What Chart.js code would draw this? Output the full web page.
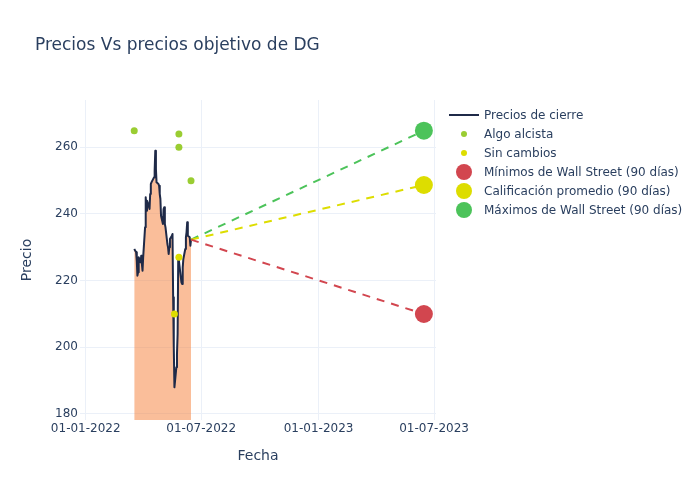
<!DOCTYPE html>
<html>
<head>
<meta charset="utf-8">
<script src="https://cdn.jsdelivr.net/npm/chart.js@4.4.0/dist/chart.umd.min.js"></script>
<style>
  body { margin: 0; background: #fff; font-family: "DejaVu Sans", sans-serif; color: #2a3f5f; }
  #wrap { position: relative; width: 700px; height: 500px; }
  #title { position: absolute; left: 35px; top: 33px; font-size: 17px; line-height: 22px; white-space: nowrap; }
  #legend { position: absolute; left: 449px; top: 0; font-size: 12px; }
  .row { position: absolute; left: 0; height: 18px; line-height: 18px; white-space: nowrap; }
  .sym { position: absolute; left: 0; top: 0; width: 30px; height: 18px; }
  .txt { position: absolute; left: 35px; top: 0; }
</style>
</head>
<body>
<div id="wrap">
  <canvas id="myChart" width="700" height="500"></canvas>
  <div id="title">Precios Vs precios objetivo de DG</div>
  <div id="legend"></div>
</div>
<script>
// Precios de cierre diarios
const priceDates = [
  '2022-03-18', '2022-03-21', '2022-03-22', '2022-03-23', '2022-03-24', '2022-03-25',
  '2022-03-28', '2022-03-29', '2022-03-30', '2022-03-31', '2022-04-01',
  '2022-04-04', '2022-04-05', '2022-04-06', '2022-04-07', '2022-04-08',
  '2022-04-11', '2022-04-12', '2022-04-13', '2022-04-14',
  '2022-04-18', '2022-04-19', '2022-04-20', '2022-04-21', '2022-04-22',
  '2022-04-25', '2022-04-26', '2022-04-27', '2022-04-28', '2022-04-29',
  '2022-05-02', '2022-05-03', '2022-05-04', '2022-05-05', '2022-05-06',
  '2022-05-09', '2022-05-10', '2022-05-11', '2022-05-12', '2022-05-13',
  '2022-05-16', '2022-05-17', '2022-05-18', '2022-05-19', '2022-05-20',
  '2022-05-23', '2022-05-24', '2022-05-25', '2022-05-26', '2022-05-27',
  '2022-05-31', '2022-06-01', '2022-06-02', '2022-06-03',
  '2022-06-06', '2022-06-07', '2022-06-08', '2022-06-09', '2022-06-10',
  '2022-06-13', '2022-06-14', '2022-06-15',
];
const closePrices = [
  229.5, 228.5, 226, 221.5, 222.5, 227,
  225.5, 227.5, 225, 223, 227,
  236, 245, 241, 244, 243.5,
  241.5, 246, 249, 249.5,
  251, 253, 259, 253.5, 249.5,
  249, 248.5, 246, 244.5, 239.5,
  237, 241.5, 242, 237, 236,
  231, 230, 228, 230, 232.5,
  233.5, 234, 215, 200, 188,
  194, 198, 204, 227.5, 226,
  219.5, 219, 224, 226.5,
  229.5, 233, 234.5, 237.5, 233.5,
  233, 230.5, 232.3,
];

// Recomendaciones de analistas
const bullDates = ['2022-03-18', '2022-05-27', '2022-05-27', '2022-06-15'];
const bullTargets = [265, 264, 260, 250];
const holdDates = ['2022-05-20', '2022-05-27'];
const holdTargets = [210, 227];

// Objetivos a 90 días
const forecastDate = '2023-06-15';
const targetLow = 210;
const targetAvg = 248.7;
const targetHigh = 265;

// Ejes
const xTickDates = ['2022-01-01', '2022-07-01', '2023-01-01', '2023-07-01'];
const xStart = '2021-12-23';
const xEnd = '2023-07-04';
const yTicks = [180, 200, 220, 240, 260];
const yMin = 178.2;
const yMax = 274.2;

const textColor = '#2a3f5f';
const gridColor = '#EBF0F8';
const fontName = '"DejaVu Sans", sans-serif';

const toMs = d => {
  const [y, m, day] = d.split('-').map(Number);
  return Date.UTC(y, m - 1, day);
};
const fmtDate = v => {
  const d = new Date(v);
  const dd = String(d.getUTCDate()).padStart(2, '0');
  const mm = String(d.getUTCMonth() + 1).padStart(2, '0');
  return dd + '-' + mm + '-' + d.getUTCFullYear();
};

const lastDate = priceDates[priceDates.length - 1];
const lastPrice = closePrices[closePrices.length - 1];

const targetLine = (label, target, color) => ({
  label: label,
  data: [{ x: toMs(lastDate), y: lastPrice }, { x: toMs(forecastDate), y: target }],
  borderColor: color,
  backgroundColor: color,
  borderWidth: 2,
  borderDash: [8, 7],
  pointRadius: ctx => (ctx.dataIndex === 1 ? 9 : 0),
  pointBorderWidth: 0,
  fill: false,
  order: 1,
});

const series = [
  {
    label: 'Precios de cierre',
    data: priceDates.map((d, i) => ({ x: toMs(d), y: closePrices[i] })),
    borderColor: '#1f2a48',
    borderWidth: 2,
    borderJoinStyle: 'round',
    backgroundColor: 'rgba(245, 125, 53, 0.5)',
    fill: 'start',
    pointRadius: 0,
    order: 10,
  },
  {
    label: 'Algo alcista',
    data: bullDates.map((d, i) => ({ x: toMs(d), y: bullTargets[i] })),
    showLine: false,
    pointRadius: 3.5,
    pointBorderWidth: 0,
    backgroundColor: '#9ACD32',
    borderColor: '#9ACD32',
    order: 2,
  },
  {
    label: 'Sin cambios',
    data: holdDates.map((d, i) => ({ x: toMs(d), y: holdTargets[i] })),
    showLine: false,
    pointRadius: 3.5,
    pointBorderWidth: 0,
    backgroundColor: '#DDDD00',
    borderColor: '#DDDD00',
    order: 2,
  },
  targetLine('Mínimos de Wall Street (90 días)', targetLow, '#D2464F'),
  targetLine('Calificación promedio (90 días)', targetAvg, '#DDDD00'),
  targetLine('Máximos de Wall Street (90 días)', targetHigh, '#4CC35A'),
];

const ctx = document.getElementById('myChart').getContext('2d');
const myChart = new Chart(ctx, {
  type: 'line',
  data: { datasets: series },
  options: {
    responsive: false,
    animation: false,
    layout: { padding: { left: 0, right: 264, top: 100, bottom: 0 } },
    plugins: {
      legend: { display: false },
      title: { display: false },
      tooltip: { enabled: false },
    },
    scales: {
      x: {
        type: 'linear',
        min: toMs(xStart),
        max: toMs(xEnd),
        afterBuildTicks: s => { s.ticks = xTickDates.map(d => ({ value: toMs(d) })); },
        afterFit: s => { s.height = 80; },
        grid: { color: gridColor, drawTicks: false },
        border: { display: false },
        ticks: {
          autoSkip: false,
          maxRotation: 0,
          padding: 2,
          color: textColor,
          font: { family: fontName, size: 12 },
          callback: v => fmtDate(v),
        },
        title: {
          display: true,
          text: 'Fecha',
          color: textColor,
          font: { family: fontName, size: 14 },
          padding: { top: 0, bottom: 35.6 },
        },
      },
      y: {
        min: yMin,
        max: yMax,
        afterBuildTicks: s => { s.ticks = yTicks.map(v => ({ value: v })); },
        afterFit: s => { s.width = 80; },
        grid: { color: gridColor, drawTicks: false },
        border: { display: false },
        ticks: {
          padding: 2,
          color: textColor,
          font: { family: fontName, size: 12 },
        },
        title: {
          display: true,
          text: 'Precio',
          color: textColor,
          font: { family: fontName, size: 14 },
          padding: { top: 18.6, bottom: 0 },
        },
      },
    },
  },
});

// Leyenda en HTML
const legendEl = document.getElementById('legend');
series.forEach((ds, i) => {
  const row = document.createElement('div');
  row.className = 'row';
  row.style.top = (106 + i * 18.9) + 'px';
  const sym = document.createElement('div');
  sym.className = 'sym';
  const mark = document.createElement('div');
  mark.style.position = 'absolute';
  if (i === 0) {
    mark.style.left = '0px';
    mark.style.top = '8px';
    mark.style.width = '30px';
    mark.style.height = '2px';
    mark.style.background = ds.borderColor;
  } else {
    const r = i < 3 ? 3 : 8;
    mark.style.left = (15 - r) + 'px';
    mark.style.top = (9 - r) + 'px';
    mark.style.width = (2 * r) + 'px';
    mark.style.height = (2 * r) + 'px';
    mark.style.borderRadius = '50%';
    mark.style.background = ds.backgroundColor;
  }
  sym.appendChild(mark);
  const txt = document.createElement('div');
  txt.className = 'txt';
  txt.textContent = ds.label;
  row.appendChild(sym);
  row.appendChild(txt);
  legendEl.appendChild(row);
});
</script>
</body>
</html>
